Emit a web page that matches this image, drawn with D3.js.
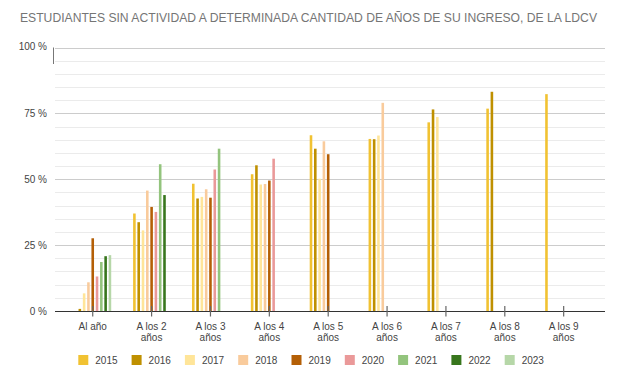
<!DOCTYPE html>
<html>
<head>
<meta charset="utf-8">
<script src="https://cdn.jsdelivr.net/npm/d3@7"></script>
<style>
  html, body { margin: 0; padding: 0; background: #fff; }
  svg { display: block; font-family: "Liberation Sans", Arial, sans-serif; }
</style>
</head>
<body>
<svg id="chart" width="620" height="379"></svg>
<script>
const title = "ESTUDIANTES SIN ACTIVIDAD A DETERMINADA CANTIDAD DE AÑOS DE SU INGRESO, DE LA LDCV";
const categories = ["Al año", "A los 2 años", "A los 3 años", "A los 4 años", "A los 5 años",
                    "A los 6 años", "A los 7 años", "A los 8 años", "A los 9 años"];
const categoryLines = [["Al año"], ["A los 2", "años"], ["A los 3", "años"], ["A los 4", "años"],
                       ["A los 5", "años"], ["A los 6", "años"], ["A los 7", "años"],
                       ["A los 8", "años"], ["A los 9", "años"]];
const seriesNames = ["2015", "2016", "2017", "2018", "2019", "2020", "2021", "2022", "2023"];
const seriesColors = ["#f1c232", "#bf9000", "#ffe599", "#f9cb9c", "#b45f06",
                      "#ea9999", "#93c47d", "#38761d", "#b6d7a8"];
// values in %, one array per series (year cohort), indexed by category
const v2015 = [0, 37.0, 48.3, 51.9, 66.7, 65.3, 71.6, 76.8, 82.3];
const v2016 = [0.8, 33.7, 42.7, 55.3, 61.6, 65.2, 76.5, 83.2, null];
const v2017 = [6.7, 30.6, 43.3, 48.0, 50.2, 66.6, 73.6, null, null];
const v2018 = [10.9, 45.7, 46.2, 48.2, 64.4, 79.0, null, null, null];
const v2019 = [27.6, 39.5, 43.0, 49.5, 59.5, null, null, null, null];
const v2020 = [13.1, 37.6, 53.7, 57.8, null, null, null, null, null];
const v2021 = [18.6, 55.7, 61.6, null, null, null, null, null, null];
const v2022 = [20.8, 44.0, null, null, null, null, null, null, null];
const v2023 = [21.2, null, null, null, null, null, null, null, null];
const seriesValues = [v2015, v2016, v2017, v2018, v2019, v2020, v2021, v2022, v2023];
const yTicks = [0, 25, 50, 75, 100];
const yTickLabels = ["0 %", "25 %", "50 %", "75 %", "100 %"];

const svg = d3.select("#chart");

svg.append("text")
  .attr("x", 20).attr("y", 22)
  .attr("fill", "#757575")
  .attr("font-size", 12.5)
  .attr("textLength", 577)
  .attr("lengthAdjust", "spacingAndGlyphs")
  .text(title);

const plotLeft = 55, plotRight = 605;
const y = d3.scaleLinear().domain([0, 100]).range([311, 47.5]);
const x0 = d3.scaleBand().domain(categories).range([63.3, 593.1]).paddingInner(0).paddingOuter(0);
const groupW = 38.7;
const x1 = d3.scaleBand().domain(seriesNames).range([-groupW / 2, groupW / 2])
  .paddingInner(0.4).paddingOuter(0.2);

// gridlines
const grid = svg.append("g");
d3.range(0, 101, 5).forEach(t => {
  if (t === 0) return;
  grid.append("line")
    .attr("x1", plotLeft).attr("x2", plotRight)
    .attr("y1", Math.round(y(t)) + 0.5).attr("y2", Math.round(y(t)) + 0.5)
    .attr("stroke", t % 25 === 0 ? "#cccccc" : "#ebebeb")
    .attr("stroke-width", 1);
});

// small vertical axis mark near the top
svg.append("line")
  .attr("x1", 53.5).attr("x2", 53.5)
  .attr("y1", y(100)).attr("y2", 64)
  .attr("stroke", "#777").attr("stroke-width", 1);

// y labels
yTicks.forEach((t, i) => {
  svg.append("text")
    .attr("x", 47).attr("y", y(t) + (t === 100 ? 2 : 4))
    .attr("text-anchor", "end")
    .attr("font-size", 10)
    .attr("fill", "#444")
    .text(yTickLabels[i]);
});

// bars
const groups = svg.append("g").selectAll("g")
  .data(categories)
  .join("g")
  .attr("transform", c => `translate(${x0(c) + x0.bandwidth() / 2},0)`);

groups.each(function (c, ci) {
  const g = d3.select(this);
  seriesNames.forEach((s, si) => {
    const v = seriesValues[si][ci];
    if (v === null || v === undefined || v <= 0) return;
    g.append("rect")
      .attr("x", x1(s))
      .attr("y", y(v))
      .attr("width", x1.bandwidth())
      .attr("height", y(0) - y(v))
      .attr("fill", seriesColors[si]);
  });
});

// x axis line
svg.append("line")
  .attr("x1", plotLeft).attr("x2", plotRight)
  .attr("y1", 311.5).attr("y2", 311.5)
  .attr("stroke", "#333").attr("stroke-width", 1);

// category ticks
categories.forEach(c => {
  const cx = x0(c) + x0.bandwidth() / 2;
  svg.append("line")
    .attr("x1", cx).attr("x2", cx)
    .attr("y1", 306).attr("y2", 316.5)
    .attr("stroke", "#666").attr("stroke-width", 1.2);
});

// category labels
categories.forEach((c, ci) => {
  const cx = x0(c) + x0.bandwidth() / 2;
  const t = svg.append("text")
    .attr("x", cx).attr("y", 330)
    .attr("text-anchor", "middle")
    .attr("font-size", 10)
    .attr("fill", "#444");
  categoryLines[ci].forEach((ln, li) => {
    t.append("tspan").attr("x", cx).attr("dy", li === 0 ? 0 : 11).text(ln);
  });
});

// legend
seriesNames.forEach((s, i) => {
  const lx = 78.3 + i * 53.3;
  svg.append("rect")
    .attr("x", lx).attr("y", 355)
    .attr("width", 10).attr("height", 10)
    .attr("fill", seriesColors[i]);
  svg.append("text")
    .attr("x", lx + 17).attr("y", 364)
    .attr("font-size", 10)
    .attr("fill", "#444")
    .text(s);
});
</script>
</body>
</html>
